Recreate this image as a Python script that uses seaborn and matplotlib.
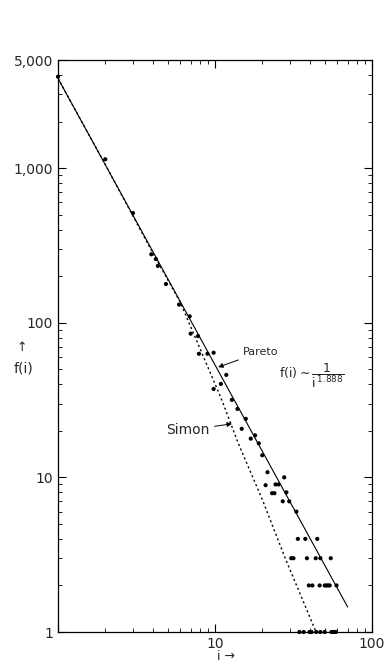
import numpy as np
import pandas as pd
import matplotlib
matplotlib.use("Agg")
import matplotlib.pyplot as plt
import seaborn as sns
from matplotlib.ticker import LogLocator, NullFormatter, FixedLocator, FixedFormatter

obs_i = [1, 2, 3, 3.93, 4.2, 4.33, 4.87, 5.9, 6.9, 7.0, 7.8, 7.9, 8.96, 9.8,
         11.8, 9.8, 10.9, 12.8, 13.9, 15.7, 14.8, 16.9, 18, 19, 20, 21.6,
         21, 24.3, 25.4, 23.1, 23.9, 27.6, 28.5, 27, 29.7, 33, 33.7, 37.6, 44.8,
         30.6, 31.6, 38.5, 43.8, 46.9, 54.6,
         39.6, 41.7, 46.4, 50, 51.2, 52.5, 53.8, 59.4,
         34.5, 36.7, 40, 41.2, 44.2, 46.9, 50, 55.2, 57, 58.8]
obs_f = [3900, 1140, 512, 277, 258, 233, 178, 131, 110, 85, 82, 63, 63, 64,
         46, 37.3, 40.2, 31.7, 27.7, 23.9, 20.6, 17.8, 18.7, 16.6, 13.9, 10.8,
         8.9, 9, 9, 7.9, 7.9, 10, 8, 7, 7, 6, 4, 4, 4,
         3, 3, 3, 3, 3, 3,
         2, 2, 2, 2, 2, 2, 2, 2,
         1, 1, 1, 1, 1, 1, 1, 1, 1, 1]

# Pareto line f(i) ~ 1/i^1.888, end points as drawn
pareto_i = [1, 70]
pareto_f = [3800, 1.45]

# Simon curve, points
simon_i = [1, 2, 3, 4, 6, 8, 11, 14, 20, 28, 36, 44]
simon_f = [3800, 1054, 490, 285, 136, 68.6, 32, 16.8, 7.2, 3.0, 1.63, 1.0]

obs = pd.DataFrame({"i": obs_i, "f": obs_f})
par = pd.DataFrame({"i": pareto_i, "f": pareto_f})
sim = pd.DataFrame({"i": simon_i, "f": simon_f})

sns.set_style("ticks")
plt.rcParams["font.family"] = ["DejaVu Sans"]

fig = plt.figure(figsize=(3.9, 6.63), dpi=100)
ax = fig.add_axes([58 / 390, 1 - 632 / 663, 314 / 390, 572 / 663])

sns.lineplot(data=par, x="i", y="f", ax=ax, color="black", lw=0.8)
sns.lineplot(data=sim, x="i", y="f", ax=ax, color="black", lw=1.0,
             linestyle=(0, (1.5, 2)))
sns.scatterplot(data=obs, x="i", y="f", ax=ax, color="black", s=9,
                edgecolor="none", clip_on=False, zorder=3)

ax.set_xscale("log")
ax.set_yscale("log")
ax.set_xlim(1, 100)
ax.set_ylim(1, 5000)

ax.xaxis.set_major_locator(FixedLocator([1, 10, 100]))
ax.xaxis.set_major_formatter(FixedFormatter(["", "10", "100"]))
ax.xaxis.set_minor_locator(LogLocator(base=10, subs=np.arange(2, 10)))
ax.xaxis.set_minor_formatter(NullFormatter())
ax.yaxis.set_major_locator(FixedLocator([1, 10, 100, 1000, 5000]))
ax.yaxis.set_major_formatter(FixedFormatter(["1", "10", "100", "1,000", "5,000"]))
ax.yaxis.set_minor_locator(LogLocator(base=10, subs=np.arange(2, 10)))
ax.yaxis.set_minor_formatter(NullFormatter())

ax.tick_params(which="both", direction="in", top=True, right=True,
               color="black", labelsize=10)
ax.tick_params(which="major", length=6, width=0.8)
ax.tick_params(which="minor", length=3, width=0.6)
for s in ax.spines.values():
    s.set_color("black")
    s.set_linewidth(0.9)

ax.set_xlabel("")
ax.set_ylabel("")

# axis labels
ax.text(-0.115, 0.497, "\u2191", transform=ax.transAxes, ha="center",
        va="center", fontsize=9)
ax.text(-0.111, 0.4615, "f(i)", transform=ax.transAxes, ha="center",
        va="center", fontsize=10)
ax.text(0.535, -0.042, "i \u2192", transform=ax.transAxes, ha="center",
        va="center", fontsize=9, clip_on=False)

# annotations
ax.annotate("Pareto", xy=(0.510, 0.463), xytext=(0.589, 0.4895),
            xycoords="axes fraction", textcoords="axes fraction",
            ha="left", va="center", fontsize=8,
            arrowprops=dict(arrowstyle="-|>", color="black", lw=0.7,
                            shrinkA=1, shrinkB=0, mutation_scale=7))
ax.text(0.809, 0.448, r"$\mathrm{f(i)}\sim\dfrac{1}{\mathrm{i}^{\,1.888}}$",
        transform=ax.transAxes, ha="center", va="center", fontsize=9)
ax.annotate("Simon", xy=(0.554, 0.364), xytext=(0.484, 0.353),
            xycoords="axes fraction", textcoords="axes fraction",
            ha="right", va="center", fontsize=10,
            arrowprops=dict(arrowstyle="-|>", color="black", lw=0.7,
                            shrinkA=1, shrinkB=0, mutation_scale=7))

fig.savefig("out.png", dpi=100)
